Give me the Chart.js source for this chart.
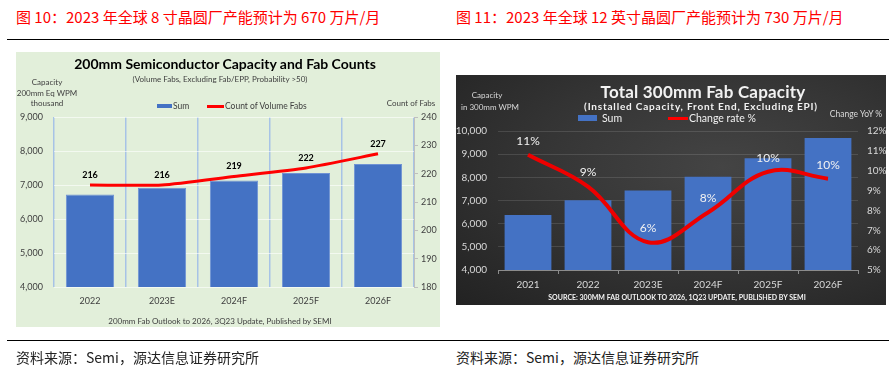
<!DOCTYPE html>
<html>
<head>
<meta charset="utf-8">
<script src="https://cdn.jsdelivr.net/npm/chart.js@4.4.0/dist/chart.umd.min.js"></script>
<style>
body { margin:0; background:#fff; width:893px; height:377px; position:relative; overflow:hidden; font-family:"Noto Sans CJK SC", sans-serif; }
.abs { position:absolute; white-space:nowrap; }
.c { transform:translate(-50%,-50%); }
.m { transform:translateY(-50%); }
.fig { color:#ff0000; font-size:15px; top:7px; line-height:20px; }
.src { color:#222; font-size:14px; top:347px; line-height:20px; }
.rule { position:absolute; left:7px; width:882px; height:1px; background:#000; }
#p1 { position:absolute; left:16px; top:52px; width:424px; height:275px; background:#e2efda; font-family:Lato, sans-serif; color:#404040; }
#p2 { position:absolute; left:456px; top:75px; width:430px; height:230px; font-family:Lato, sans-serif; color:#d9d9d9;
      background:radial-gradient(ellipse at 62% 40%, #444 0%, #363636 45%, #222 100%); }
canvas { position:absolute; left:0; top:0; }
</style>
</head>
<body>
<div class="abs fig" style="left:16px">图 10：2023 年全球 8 寸晶圆厂产能预计为 670 万片/月</div>
<div class="abs fig" style="left:456px">图 11：2023 年全球 12 英寸晶圆厂产能预计为 730 万片/月</div>
<div class="rule" style="top:39px"></div>

<div id="p1">
  <canvas id="chart8" width="424" height="275"></canvas>
  <div class="abs c" style="left:209px;top:11px;font-size:14px;font-weight:bold;color:#000">200mm Semiconductor Capacity and Fab Counts</div>
  <div class="abs c" style="left:204px;top:27px;font-size:8px">(Volume Fabs, Excluding Fab/EPP, Probability &gt;50)</div>
  <div class="abs c" style="left:31px;top:30px;font-size:8px">Capacity</div>
  <div class="abs c" style="left:31px;top:41px;font-size:8px">200mm Eq WPM</div>
  <div class="abs c" style="left:31px;top:51px;font-size:8px">thousand</div>
  <div class="abs" style="left:141px;top:52px;width:15px;height:4px;background:#4472c4"></div>
  <div class="abs m" style="left:157px;top:54px;font-size:8.5px">Sum</div>
  <div class="abs" style="left:191px;top:53px;width:17px;height:3px;background:#ff0000"></div>
  <div class="abs m" style="left:209px;top:54px;font-size:8.5px">Count of Volume Fabs</div>
  <div class="abs c" style="left:395px;top:51px;font-size:8px">Count of Fabs</div>
  <div class="abs c" style="left:204px;top:269px;font-size:8px">200mm Fab Outlook to 2026, 3Q23 Update, Published by SEMI</div>
</div>

<div id="p2">
  <canvas id="chart12" width="430" height="230"></canvas>
  <div class="abs c" style="left:247px;top:16px;font-size:17px;font-weight:bold;color:#f2f2f2;letter-spacing:0.2px">Total 300mm Fab Capacity</div>
  <div class="abs c" style="left:245px;top:31px;font-size:10px;font-weight:bold;color:#f2f2f2;letter-spacing:0.8px">(Installed Capacity, Front End, Excluding EPI)</div>
  <div class="abs c" style="left:31px;top:20px;font-size:8px">Capacity</div>
  <div class="abs c" style="left:34px;top:32px;font-size:8px">in 300mm WPM</div>
  <div class="abs" style="left:122px;top:40px;width:19px;height:6px;background:#4472c4"></div>
  <div class="abs m" style="left:146px;top:43px;font-size:10.5px;color:#f2f2f2">Sum</div>
  <div class="abs" style="left:212px;top:42px;width:20px;height:3px;background:#ff0000"></div>
  <div class="abs m" style="left:233px;top:43px;font-size:10.5px;color:#f2f2f2">Change rate %</div>
  <div class="abs c" style="left:400px;top:39px;font-size:8.5px">Change YoY %</div>
  <div class="abs c" style="left:221px;top:222px;font-size:7px;font-weight:bold;color:#f2f2f2">SOURCE: 300MM FAB OUTLOOK TO 2026, 1Q23 UPDATE, PUBLISHED BY SEMI</div>
</div>

<div class="rule" style="top:340px"></div>
<div class="abs src" style="left:16px">资料来源：Semi，源达信息证券研究所</div>
<div class="abs src" style="left:456px">资料来源：Semi，源达信息证券研究所</div>

<script>
// 200mm capacity (thousand wpm) and count of volume fabs
const years8 = ['2022', '2023E', '2024F', '2025F', '2026F'];
const capacity8 = [6720, 6920, 7130, 7350, 7620];
const fabCount8 = [216, 216, 219, 222, 227];

// 300mm capacity (thousand wpm) and yoy change %
const years12 = ['2021', '2022', '2023E', '2024F', '2025F', '2026F'];
const capacity12 = [6370, 7010, 7430, 8020, 8820, 9700];
const changeRate12 = [10.8, 9.2, 6.4, 7.9, 9.95, 9.6];

// Function to draw value labels above the line points
function lineLabels(font, color, offset, format) {
    return {
        id: 'lineLabels',
        afterDatasetsDraw(chart) {
            var ctx = chart.ctx;
            var meta = chart.getDatasetMeta(0);
            var values = chart.data.datasets[0].data;
            ctx.save();
            ctx.font = font;
            ctx.fillStyle = color;
            ctx.textAlign = 'center';
            ctx.textBaseline = 'middle';
            meta.data.forEach((pt, i) => {
                ctx.fillText(format(values[i]), pt.x, pt.y - offset);
            });
            ctx.restore();
        }
    };
}

var font8 = { family: 'Lato', size: 9 };

new Chart(document.getElementById('chart8').getContext('2d'), {
    type: 'bar',
    data: {
        labels: years8,
        datasets: [{
            type: 'line',
            label: 'Count of Volume Fabs',
            data: fabCount8,
            yAxisID: 'y1',
            borderColor: '#ff0000',
            borderWidth: 3,
            tension: 0.2,
            pointRadius: 0,
            order: 0
        }, {
            label: 'Sum',
            data: capacity8,
            backgroundColor: '#4472c4',
            borderColor: '#6f92d4',
            borderWidth: 1,
            barPercentage: 0.67,
            categoryPercentage: 1,
            order: 1
        }]
    },
    options: {
        responsive: false,
        animation: false,
        layout: { padding: { top: 65, left: 0, right: 0, bottom: 0 } },
        plugins: { legend: { display: false }, tooltip: { enabled: false } },
        scales: {
            x: {
                grid: { offset: true, color: '#a7c3e6', lineWidth: 1.5, drawTicks: false },
                border: { display: false },
                ticks: { padding: 9, color: '#404040', font: font8 },
                afterFit: s => { s.height = 40; }
            },
            y: {
                min: 4000, max: 9000,
                ticks: { stepSize: 1000, padding: 11, color: '#404040', font: font8 },
                grid: { color: 'rgba(255,255,255,0.6)', drawTicks: false },
                border: { display: false },
                afterFit: s => { s.width = 38; }
            },
            y1: {
                position: 'right',
                min: 180, max: 240,
                ticks: { stepSize: 10, padding: 3, color: '#404040', font: font8 },
                grid: { drawOnChartArea: false, tickLength: 4, color: '#bfbfbf' },
                border: { display: true, color: '#bfbfbf' },
                afterFit: s => { s.width = 26; }
            }
        }
    },
    plugins: [lineLabels('bold 9px Lato', '#000', 10, v => v)]
});

var font12 = { family: 'Lato', size: 10 };

new Chart(document.getElementById('chart12').getContext('2d'), {
    type: 'bar',
    data: {
        labels: years12,
        datasets: [{
            type: 'line',
            label: 'Change rate %',
            data: changeRate12,
            yAxisID: 'y1',
            borderColor: '#ee0000',
            borderWidth: 4,
            tension: 0.4,
            pointRadius: 0,
            order: 0
        }, {
            label: 'Sum',
            data: capacity12,
            backgroundColor: '#4472c4',
            barPercentage: 0.78,
            categoryPercentage: 1,
            order: 1
        }]
    },
    options: {
        responsive: false,
        animation: false,
        layout: { padding: { top: 56, left: 0, right: 0, bottom: 0 } },
        plugins: { legend: { display: false }, tooltip: { enabled: false } },
        scales: {
            x: {
                grid: { offset: true, drawOnChartArea: false, tickLength: 4, color: '#8c8c8c' },
                border: { display: true, color: '#8c8c8c' },
                ticks: { padding: 5, color: '#d9d9d9', font: font12 },
                afterFit: s => { s.height = 35; }
            },
            y: {
                min: 4000, max: 10000,
                ticks: { stepSize: 1000, padding: 11, color: '#d9d9d9', font: font12 },
                grid: { color: 'rgba(255,255,255,0.12)', drawTicks: false },
                border: { display: false },
                afterFit: s => { s.width = 42; }
            },
            y1: {
                position: 'right',
                min: 5, max: 12,
                ticks: { stepSize: 1, padding: 9, color: '#d9d9d9', font: font12, callback: v => v + '%' },
                grid: { drawOnChartArea: false, drawTicks: false },
                border: { display: false },
                afterFit: s => { s.width = 28; }
            }
        }
    },
    plugins: [lineLabels('12px Lato', '#f2f2f2', 14, v => Math.round(v) + '%')]
});
</script>
</body>
</html>
